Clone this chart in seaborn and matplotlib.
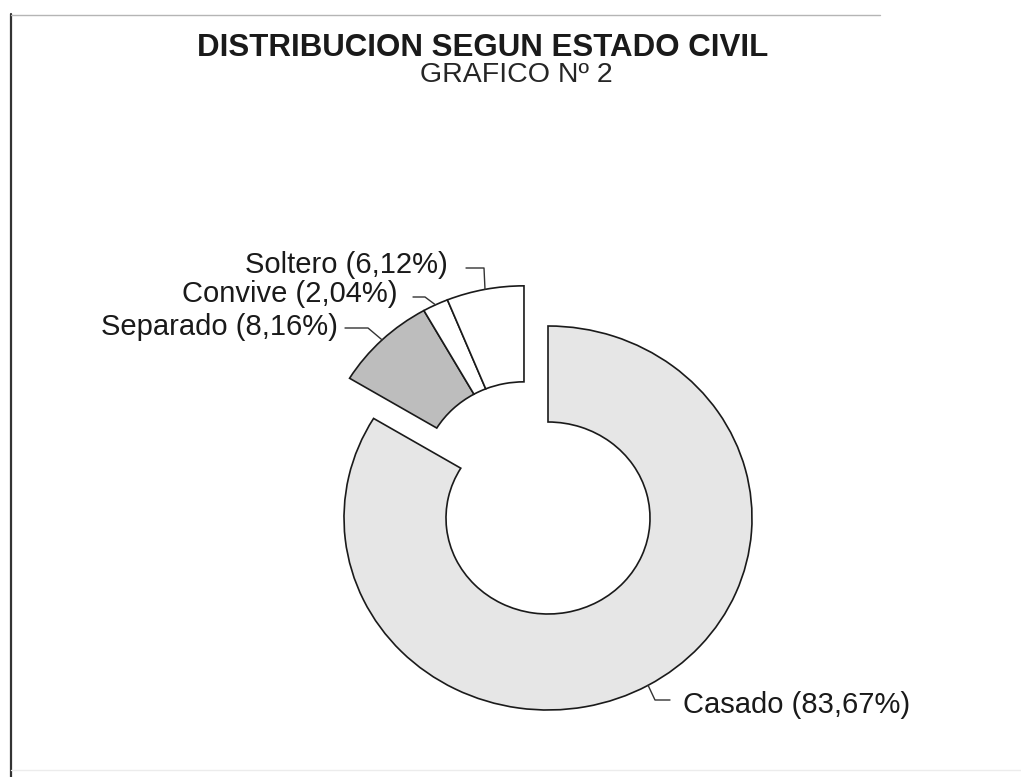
import numpy as np
import matplotlib
matplotlib.use("Agg")
import matplotlib.pyplot as plt
import seaborn as sns

# Data
categories = ['Casado', 'Separado', 'Convive', 'Soltero']
percentages = [83.67, 8.16, 2.04, 6.12]
fill_colors = ['#e6e6e6', '#bdbdbd', '#ffffff', '#ffffff']

sns.set_theme(style='white')
plt.rcParams['font.family'] = ['Liberation Sans', 'DejaVu Sans']

W, H = 1021, 777
CX, CY = 548, 518      # pie centre in pixels
RX, RY = 204, 192      # scanned ellipse radii


def px(x, y):
    # pixel position -> data coordinates (unit radius pie)
    return (x - CX) / RX, (CY - y) / RY


fig = plt.figure(figsize=(W / 100, H / 100), dpi=100)
ax = fig.add_axes([0, 0, 1, 1])

wedge_kw = dict(width=0.5, edgecolor='#1a1a1a', linewidth=1.2)

# main ring: only Casado visible
w1, _ = ax.pie(percentages, colors=fill_colors, startangle=90, counterclock=False,
               radius=1, wedgeprops=wedge_kw)
for w in w1[1:]:
    w.set_visible(False)

# the three small slices are pulled out together along their shared middle angle
fracs = np.array(percentages) / sum(percentages)
ends = 90 - np.cumsum(fracs) * 360
starts = np.concatenate([[90], ends[:-1]])
mids = (starts + ends) / 2
grp_mid = np.deg2rad((starts[1] + ends[-1]) / 2)
off = 0.24
offset = (off * np.cos(grp_mid), off * np.sin(grp_mid))

w2, _ = ax.pie(percentages, colors=fill_colors, startangle=90, counterclock=False,
               radius=1, center=offset, wedgeprops=wedge_kw)
w2[0].set_visible(False)

ax.set_aspect('auto')
x0, y1 = px(0, 0)
x1, y0 = px(W, H)
ax.set_xlim(x0, x1)
ax.set_ylim(y0, y1)
ax.axis('off')

# labels with leader lines: (elbow, line end, text anchor) in pixels
layout = {
    'Casado':   ((655, 700), (670, 700), (683, 705), 'left'),
    'Separado': ((368, 328), (345, 328), (338, 327), 'right'),
    'Convive':  ((425, 297), (413, 297), (397, 294), 'right'),
    'Soltero':  ((484, 268), (466, 268), (448, 265), 'right'),
}
for i, name in enumerate(categories):
    a = np.deg2rad(mids[i])
    cx, cy = (0, 0) if i == 0 else offset
    ax_pt = (cx + np.cos(a), cy + np.sin(a))
    elbow, lend, tpos, ha = layout[name]
    pts = [ax_pt, px(*elbow), px(*lend)]
    ax.plot([p[0] for p in pts], [p[1] for p in pts], color='#333333', lw=1.0)
    txt = f"{name} ({percentages[i]:.2f}%)".replace('.', ',')
    ax.text(*px(*tpos), txt, ha=ha, va='center', fontsize=21, color='#1a1a1a')

# titles
ax.text(*px(483, 48), 'DISTRIBUCION SEGUN ESTADO CIVIL', ha='center', va='center',
        fontsize=22.5, fontweight='bold', color='#1a1a1a')
ax.text(*px(516, 75), 'GRAFICO Nº 2', ha='center', va='center',
        fontsize=20.5, color='#262626')

# scanned frame
ax.plot(*zip(px(11, 14), px(11, H)), color='#333333', lw=1.6)
ax.plot(*zip(px(11, 15), px(880, 15)), color='#b5b5b5', lw=1.0)
ax.plot(*zip(px(11, 770), px(W, 770)), color='#ececec', lw=1.0)

fig.savefig('out.png', dpi=100)
